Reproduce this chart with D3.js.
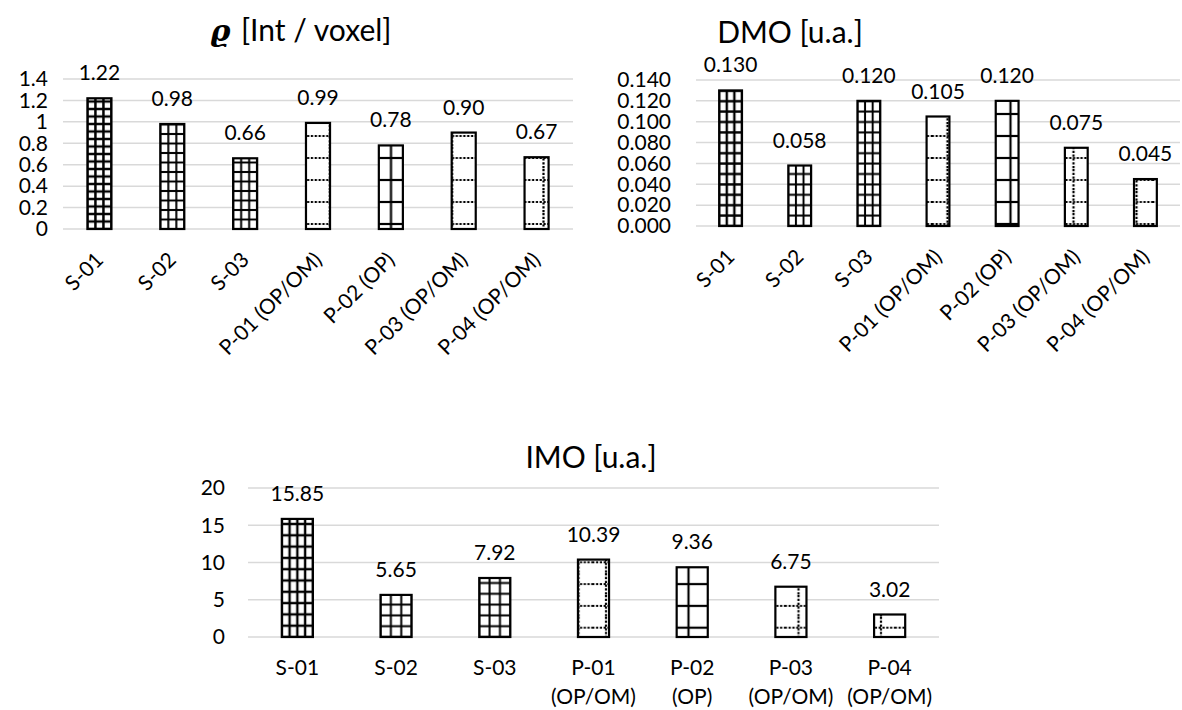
<!DOCTYPE html>
<html>
<head>
<meta charset="utf-8">
<script src="https://cdn.jsdelivr.net/npm/d3@7"></script>
<style>
  body { margin: 0; background: #fff; }
  svg { display: block; }
  text { font-family: Lato, "Open Sans", sans-serif; fill: #000; }
</style>
</head>
<body>
<div id="chart"></div>
<script>
// categories and values
var categories = ["S-01", "S-02", "S-03", "P-01 (OP/OM)", "P-02 (OP)", "P-03 (OP/OM)", "P-04 (OP/OM)"];
var imoTickLines = [["S-01"], ["S-02"], ["S-03"], ["P-01", "(OP/OM)"], ["P-02", "(OP)"], ["P-03", "(OP/OM)"], ["P-04", "(OP/OM)"]];
var rhoValues = [1.22, 0.98, 0.66, 0.99, 0.78, 0.90, 0.67];
var dmoValues = [0.130, 0.058, 0.120, 0.105, 0.120, 0.075, 0.045];
var imoValues = [15.85, 5.65, 7.92, 10.39, 9.36, 6.75, 3.02];
var rhoTicks = [0, 0.2, 0.4, 0.6, 0.8, 1, 1.2, 1.4];
var dmoTicks = [0, 0.02, 0.04, 0.06, 0.08, 0.1, 0.12, 0.14];
var imoTicks = [0, 5, 10, 15, 20];

// fill pattern used for each category (Excel style hatch)
var patternKind = ["fine", "grid", "grid", "dots", "big", "dots", "dots"];

var svg = d3.select("#chart").append("svg")
    .attr("width", 1182)
    .attr("height", 710);
var defs = svg.append("defs");

// one tile: a vertical and a horizontal line through its centre,
// shifted so that the lines fall on (tx, ty) modulo the tile size
function gridPattern(id, w, h, sw, dash, tx, ty) {
    var p = defs.append("pattern")
        .attr("id", id)
        .attr("patternUnits", "userSpaceOnUse")
        .attr("width", w).attr("height", h)
        .attr("patternTransform", "translate(" + (tx - w / 2) + "," + (ty - h / 2) + ")");
    p.append("rect").attr("width", w).attr("height", h).attr("fill", "#fff");
    p.append("line")
        .attr("x1", w / 2).attr("x2", w / 2).attr("y1", 0).attr("y2", h)
        .attr("stroke", "#000").attr("stroke-width", sw)
        .attr("stroke-dasharray", dash ? "2.2,1.6" : null);
    p.append("line")
        .attr("x1", 0).attr("x2", w).attr("y1", h / 2).attr("y2", h / 2)
        .attr("stroke", "#000").attr("stroke-width", sw)
        .attr("stroke-dasharray", dash ? "2.2,1.6" : null);
}

function drawChart(cfg) {
    var g = svg.append("g");

    var x = d3.scaleBand().domain(categories).range([cfg.x0, cfg.x1]).padding(0);
    var y = d3.scaleLinear().domain([0, d3.max(cfg.ticks)]).range([cfg.y0, cfg.y1]);
    var bw = x.bandwidth() * cfg.barFrac;

    // title
    var title = g.append("text")
        .attr("x", cfg.titleX).attr("y", cfg.titleY)
        .attr("text-anchor", "middle")
        .style("font-size", "30px");
    if (cfg.symbol) {
        title.append("tspan")
            .style("font-family", "'DejaVu Serif', serif")
            .style("font-weight", "bold")
            .style("font-style", "italic")
            .text(cfg.symbol + " ");
    }
    title.append("tspan").text(cfg.title);

    // gridlines
    g.selectAll(".grid").data(cfg.ticks).enter().append("line")
        .attr("x1", cfg.x0).attr("x2", cfg.x1)
        .attr("y1", function (d) { return y(d); })
        .attr("y2", function (d) { return y(d); })
        .attr("stroke", "#d9d9d9")
        .attr("stroke-width", 1.5);

    // y tick labels
    g.selectAll(".ytick").data(cfg.ticks).enter().append("text")
        .attr("x", cfg.labelRight)
        .attr("y", function (d) { return y(d); })
        .attr("dy", "0.35em")
        .attr("text-anchor", "end")
        .style("font-size", "21px")
        .text(cfg.tickFormat);

    // shared patterns of this chart (big grid and dotted grid)
    gridPattern(cfg.id + "-dots", cfg.bigW, cfg.bigH, 2.2, true, cfg.bigX, cfg.bigY);
    gridPattern(cfg.id + "-big", cfg.bigW, cfg.bigH, 2.2, false, cfg.bigX, cfg.bigY);

    cfg.values.forEach(function (v, i) {
        var cat = categories[i];
        var bx = x(cat) + (x.bandwidth() - bw) / 2;
        var top = y(v);
        var kind = patternKind[i];
        var fillId;
        if (kind === "fine" || kind === "grid") {
            fillId = cfg.id + "-p" + i;
            var cols = kind === "fine" ? cfg.fineCols : 3;
            var rowH = kind === "fine" ? cfg.fineRow : cfg.gridRow;
            gridPattern(fillId, bw / cols, rowH, kind === "fine" ? 2.4 : 2, false, bx, cfg.y0);
        } else {
            fillId = cfg.id + "-" + kind;
        }
        g.append("rect")
            .attr("x", bx).attr("y", top)
            .attr("width", bw).attr("height", cfg.y0 - top)
            .attr("fill", "url(#" + fillId + ")")
            .attr("stroke", "#000")
            .attr("stroke-width", 2.2);

        g.append("text")
            .attr("x", bx + bw / 2)
            .attr("y", top - 18)
            .attr("text-anchor", "middle")
            .style("font-size", "21px")
            .text(d3.format(cfg.valueFormat)(v));
    });

    // category labels
    if (cfg.rotate) {
        g.selectAll(".xtick").data(categories).enter().append("text")
            .attr("transform", function (d) {
                return "translate(" + (x(d) + x.bandwidth() / 2) + "," + (cfg.y0 + 27) + ") rotate(-45)";
            })
            .attr("dy", "0.35em")
            .attr("text-anchor", "end")
            .style("font-size", "21px")
            .text(function (d) { return d; });
    } else {
        imoTickLines.forEach(function (lines, i) {
            var t = g.append("text")
                .attr("text-anchor", "middle")
                .style("font-size", "21px");
            lines.forEach(function (line, k) {
                t.append("tspan")
                    .attr("x", x(categories[i]) + x.bandwidth() / 2)
                    .attr("y", cfg.y0 + 31 + k * 29)
                    .attr("dy", "0.35em")
                    .text(line);
            });
        });
    }
}

drawChart({
    id: "rho", values: rhoValues, ticks: rhoTicks,
    x0: 63, x1: 573, y0: 229, y1: 79, barFrac: 0.33,
    labelRight: 48, tickFormat: function (d) { return String(d); }, valueFormat: ".2f",
    title: "[Int / voxel]", symbol: "\u03f1", titleX: 301, titleY: 41,
    fineCols: 3, fineRow: 7.5, gridRow: 9.5,
    bigW: 30.5, bigH: 22, bigX: 25, bigY: 4, rotate: true
});
drawChart({
    id: "dmo", values: dmoValues, ticks: dmoTicks,
    x0: 696, x1: 1180, y0: 226, y1: 80, barFrac: 0.33,
    labelRight: 671, tickFormat: d3.format(".3f"), valueFormat: ".3f",
    title: "DMO [u.a.]", titleX: 790, titleY: 43,
    fineCols: 3, fineRow: 10.4, gridRow: 10.4,
    bigW: 31.5, bigH: 22, bigX: 2.5, bigY: 4, rotate: true
});
drawChart({
    id: "imo", values: imoValues, ticks: imoTicks,
    x0: 248, x1: 939, y0: 637, y1: 488, barFrac: 0.315,
    labelRight: 225, tickFormat: function (d) { return String(d); }, valueFormat: ".2f",
    title: "IMO [u.a.]", titleX: 591, titleY: 468,
    fineCols: 4, fineRow: 11.3, gridRow: 10.8,
    bigW: 27.5, bigH: 21.8, bigX: 1, bigY: 17.3, rotate: false
});
</script>
</body>
</html>
